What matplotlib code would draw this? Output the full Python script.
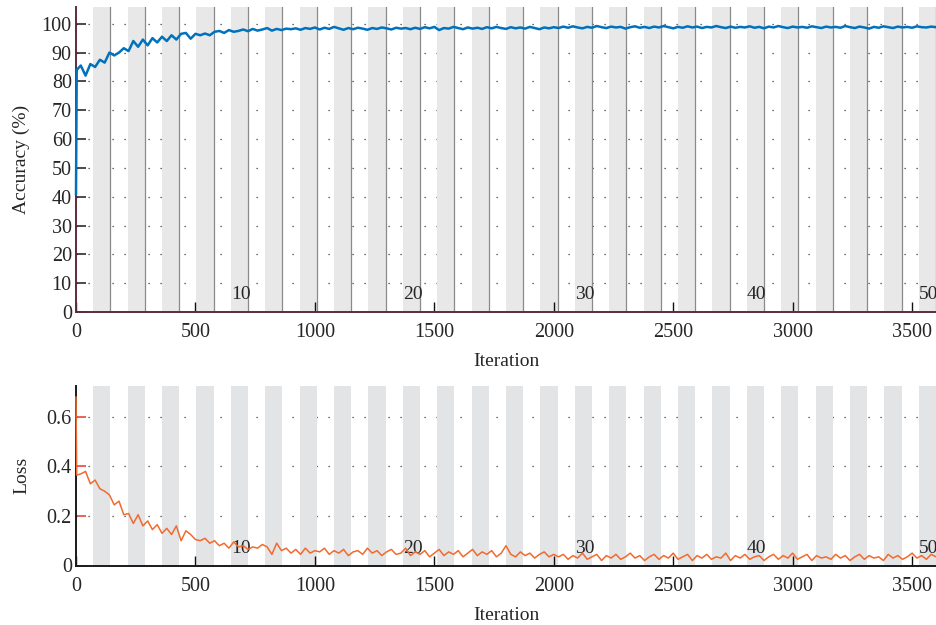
import matplotlib
matplotlib.use("Agg")
import matplotlib.pyplot as plt
import matplotlib.transforms as mtransforms
import numpy as np

# ---------------- data ----------------
iters_per_epoch = 72
n_epochs = 50
epoch_labels = [10, 20, 30, 40, 50]

acc_start_iter = [0, 3]
acc_start_vals = [41, 84]
acc_step = 20
acc_vals = [
    85.5, 82, 86, 85, 87.5, 86.5, 90, 89, 90, 91.5,
    90.5, 94, 92, 94.5, 92.5, 95, 93.5, 95.5, 94, 96,
    94.5, 96.5, 96.8, 94.8, 96.5, 96, 96.6, 96, 97.2, 97.5,
    96.8, 97.8, 97.2, 97.5, 98, 97.4, 98.2, 97.6, 98, 98.5,
    97.6, 98.2, 97.8, 98.3, 98.1, 98.4, 97.9, 98.5, 98.2, 98.7,
    98.0, 98.6, 98.2, 98.9, 98.4, 97.9, 98.5, 98.1, 98.6, 98.3,
    97.9, 98.5, 98.2, 98.7, 98.4, 98.0, 98.6, 98.3, 98.5, 98.1,
    98.6, 98.2, 98.8, 98.4, 98.9, 97.8, 98.5, 98.3, 98.9, 98.5,
    98.1, 98.7, 98.3, 98.6, 98.2, 98.8, 98.4, 98.9, 98.5, 98.2,
    98.8, 98.4, 98.7, 98.3, 98.9, 98.5, 98.1, 98.7, 98.4, 98.8,
    98.5, 99.0, 98.6, 99.1, 98.7, 98.4, 98.9, 98.6, 99.2, 98.8,
    98.5, 99.0, 98.7, 98.9, 98.3, 98.8, 99.1, 98.6, 98.9, 98.5,
    99.0, 98.7, 99.2, 98.8, 98.4, 98.9, 98.6, 99.1, 98.7, 99.0,
    98.5, 98.9, 98.7, 99.2, 98.8, 98.5, 99.0, 98.6, 98.9, 98.7,
    99.1, 98.6, 98.9, 98.4, 99.0, 98.7, 99.2, 98.8, 98.5, 99.0,
    98.7, 98.9, 98.6, 99.1, 98.8, 98.5, 99.0, 98.7, 98.9, 98.6,
    99.2, 98.8, 98.5, 99.0, 98.7, 98.3, 98.9, 98.6, 99.1, 98.8,
    98.5, 99.0, 98.7, 98.9, 98.6, 99.1, 98.8, 98.7, 99.0, 98.8,
]

loss_start_iter = [0, 3]
loss_start_vals = [0.68, 0.365]
loss_step = 20
loss_vals = [
    0.37, 0.38, 0.33, 0.345, 0.31, 0.30, 0.285, 0.245, 0.26, 0.205,
    0.21, 0.17, 0.205, 0.16, 0.18, 0.145, 0.165, 0.13, 0.15, 0.125,
    0.16, 0.10, 0.14, 0.125, 0.105, 0.10, 0.11, 0.09, 0.10, 0.08,
    0.09, 0.07, 0.095, 0.075, 0.08, 0.065, 0.075, 0.07, 0.085, 0.075,
    0.045, 0.09, 0.06, 0.07, 0.05, 0.065, 0.045, 0.07, 0.05, 0.06,
    0.055, 0.07, 0.045, 0.06, 0.05, 0.065, 0.04, 0.055, 0.06, 0.045,
    0.07, 0.05, 0.06, 0.04, 0.055, 0.065, 0.045, 0.05, 0.07, 0.04,
    0.055, 0.045, 0.06, 0.035, 0.05, 0.065, 0.04, 0.055, 0.045, 0.06,
    0.035, 0.05, 0.065, 0.04, 0.055, 0.045, 0.06, 0.035, 0.05, 0.08,
    0.045, 0.035, 0.055, 0.04, 0.05, 0.03, 0.045, 0.055, 0.035, 0.045,
    0.035, 0.045, 0.025, 0.04, 0.03, 0.05, 0.025, 0.035, 0.045, 0.02,
    0.04, 0.03, 0.045, 0.025, 0.035, 0.05, 0.03, 0.04, 0.02, 0.035,
    0.045, 0.025, 0.04, 0.03, 0.05, 0.025, 0.035, 0.045, 0.02, 0.04,
    0.03, 0.045, 0.025, 0.035, 0.03, 0.05, 0.02, 0.04, 0.03, 0.045,
    0.025, 0.035, 0.04, 0.02, 0.035, 0.045, 0.025, 0.04, 0.03, 0.05,
    0.025, 0.035, 0.045, 0.02, 0.04, 0.03, 0.035, 0.025, 0.045, 0.03,
    0.04, 0.02, 0.035, 0.045, 0.025, 0.04, 0.03, 0.035, 0.02, 0.045,
    0.03, 0.04, 0.025, 0.035, 0.05, 0.03, 0.04, 0.025, 0.045, 0.035,
]

x_ticks = [0, 500, 1000, 1500, 2000, 2500, 3000, 3500]
acc_ticks = [0, 10, 20, 30, 40, 50, 60, 70, 80, 90, 100]
loss_ticks = [0, 0.2, 0.4, 0.6]
loss_ticklabels = ["0", "0.2", "0.4", "0.6"]

# ---------------- style ----------------
plt.rcParams['font.family'] = ['Liberation Serif', 'DejaVu Serif']
plt.rcParams['font.size'] = 14
txt_color = '#262626'

acc_x = np.array(acc_start_iter + [acc_step * (i + 1) for i in range(len(acc_vals))])
acc_y = np.array(acc_start_vals + acc_vals)
loss_x = np.array(loss_start_iter + [loss_step * (i + 1) for i in range(len(loss_vals))])
loss_y = np.array(loss_start_vals + loss_vals)
xmax = iters_per_epoch * n_epochs

fig = plt.figure(figsize=(9.36, 6.25), dpi=100)
ax1 = fig.add_axes([0.0812, 0.5008, 0.9188, 0.488])
ax2 = fig.add_axes([0.0812, 0.0952, 0.9188, 0.2872])

grid_style = dict(color='#3a3a3a', lw=0.9, linestyle=(0, (1, 8.6)), zorder=0.5)


def setup(ax, band_color, edges, spine_color, ytick_color, ylim, yticks,
          yticklabels, ylabel, label_y):
    ax.set_xlim(0, xmax)
    ax.set_ylim(*ylim)
    for k in range(2, n_epochs + 1, 2):
        x0 = (k - 1) * iters_per_epoch
        x1 = k * iters_per_epoch
        ax.axvspan(x0, x1, color=band_color, lw=0, zorder=1)
        if edges:
            ax.axvline(x1, color='#8a8a8a', lw=0.9, zorder=1.1)
    for yv in yticks[1:]:
        ax.axhline(yv, **grid_style)
    for s in ['top', 'right']:
        ax.spines[s].set_visible(False)
    for s in ['left', 'bottom']:
        ax.spines[s].set_color(spine_color)
        ax.spines[s].set_linewidth(1.4)
        ax.spines[s].set_zorder(4)
    ax.set_xticks(x_ticks)
    ax.set_xticklabels([str(v) for v in x_ticks])
    ax.set_yticks(yticks)
    ax.set_yticklabels(yticklabels)
    ax.tick_params(axis='x', direction='in', length=7, width=1, color='#111111',
                   pad=8, labelcolor=txt_color, labelsize=14.5)
    ax.tick_params(axis='y', direction='in', length=7, width=1.1, color=ytick_color,
                   pad=3, labelcolor=txt_color, labelsize=14.5)
    ax.set_xlabel('Iteration', color=txt_color, fontsize=14, labelpad=8)
    ax.set_ylabel(ylabel, color=txt_color, fontsize=14)
    ax.yaxis.set_label_coords(-0.053, 0.5)
    trans = mtransforms.blended_transform_factory(ax.transData, ax.transAxes)
    for e in epoch_labels:
        ax.text((e - 1) * iters_per_epoch, label_y, str(e), transform=trans,
                ha='left', va='bottom', color=txt_color, fontsize=14,
                zorder=5, clip_on=False)


setup(ax1, '#e8e8e8', True, '#5e2c3a', '#1a1a1a', (0, 105.8), acc_ticks,
      [str(v) for v in acc_ticks], 'Accuracy (%)', 0.03)
setup(ax2, '#e3e4e6', False, '#1a1a1a', '#e8362a', (0, 0.725), loss_ticks,
      loss_ticklabels, 'Loss', 0.05)

ax1.plot(acc_x, acc_y, color='#0072BD', lw=1.8, zorder=5, clip_on=False)
ax2.plot(loss_x, loss_y, color='#F26A2E', lw=1.1, zorder=5, clip_on=False)

fig.savefig('out.png', dpi=100)
